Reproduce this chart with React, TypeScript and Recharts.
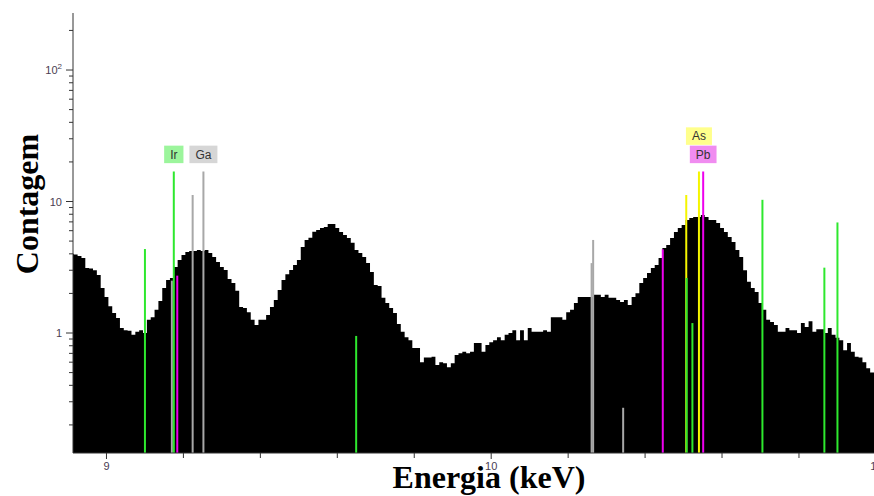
import { ComposedChart, Area, XAxis, YAxis, ReferenceLine } from "recharts";

// spectrum bins: first bin centre and bin width in keV
const START_KEV = 8.91;
const BIN_KEV = 0.01;

// counts per bin, 8.91 .. 11.00 keV
const counts = [
  4.0, 3.95, 3.85, 3.72, 3.12, 3.1, 3.0, 2.76, 2.2, 1.88,
  1.6, 1.42, 1.3, 1.09, 1.05, 1.04, 0.97, 1.02, 1.05, 1.0,
  1.26, 1.32, 1.5, 1.75, 2.2, 2.53, 2.62, 3.18, 3.59, 3.92,
  4.13, 4.2, 4.21, 4.28, 4.2, 4.28, 4.06, 3.78, 3.47, 3.18,
  3.01, 2.57, 2.4, 2.1, 1.58, 1.55, 1.44, 1.26, 1.15, 1.26,
  1.26, 1.37, 1.58, 1.78, 2.12, 2.53, 2.8, 3.01, 3.29, 3.59,
  4.5, 5.1, 5.3, 5.9, 6.07, 6.29, 6.4, 6.74, 6.74, 6.29,
  5.86, 5.56, 5.28, 4.85, 4.28, 4.06, 3.78, 3.41, 2.91, 2.32,
  2.28, 1.85, 1.69, 1.55, 1.42, 1.17, 1.02, 0.93, 0.88, 0.77,
  0.77, 0.6, 0.65, 0.65, 0.66, 0.57, 0.6, 0.59, 0.55, 0.59,
  0.68, 0.7, 0.72, 0.7, 0.72, 0.84, 0.84, 0.72, 0.81, 0.85,
  0.88, 0.93, 0.88, 0.97, 1.0, 1.05, 0.88, 1.05, 0.88, 1.09,
  1.02, 1.02, 1.02, 1.05, 1.02, 1.32, 1.32, 1.32, 1.26, 1.44,
  1.5, 1.69, 1.88, 1.88, 1.88, 1.88, 1.95, 1.95, 1.88, 1.95,
  1.85, 1.85, 1.78, 1.72, 1.78, 1.63, 1.88, 2.01, 2.4, 2.62,
  2.86, 3.12, 3.29, 3.72, 4.43, 4.67, 5.28, 5.86, 6.29, 6.63,
  7.23, 7.49, 7.62, 7.62, 7.89, 7.62, 7.23, 7.23, 6.87, 6.29,
  5.86, 5.37, 4.92, 4.28, 3.78, 3.0, 2.45, 2.2, 2.05, 1.69,
  1.5, 1.26, 1.21, 1.15, 1.02, 1.02, 1.09, 1.05, 1.05, 1.0,
  1.19, 1.11, 1.23, 1.02, 1.07, 1.07, 1.0, 1.09, 0.97, 0.92,
  0.88, 0.74, 0.84, 0.72, 0.66, 0.65, 0.6, 0.54, 0.5, 0.46,
];

// element emission lines: energy, marker height, element
const lineKeV = [
  9.1, 9.17, 9.175, 9.184, 9.224, 9.252, 9.649, 10.261, 10.265, 10.343,
  10.446, 10.507, 10.508, 10.523, 10.54, 10.551, 10.705, 10.866, 10.9,
];
const lineTop = [
  4.35, 2.5, 16.9, 2.73, 11.2, 16.9, 0.95, 3.4, 5.1, 0.27,
  4.33, 11.2, 2.62, 1.19, 16.9, 16.9, 10.3, 3.14, 6.93,
];
const lineElement = [
  "Ir", "Ga", "Ir", "Pb", "Ga", "Ga", "Ir", "Ga", "Ga", "Ga",
  "Pb", "As", "Ir", "Ir", "As", "Pb", "Ir", "Ir", "Ir",
];

const tagElements = ["Ir", "Ga", "As", "Pb"];

const xTicks = [9, 9.2, 9.4, 9.6, 9.8, 10, 10.2, 10.4, 10.6, 10.8, 11];
const yTicks = [
  0.2, 0.3, 0.4, 0.5, 0.6, 0.7, 0.8, 0.9,
  1, 2, 3, 4, 5, 6, 7, 8, 9,
  10, 20, 30, 40, 50, 60, 70, 80, 90,
  100, 200,
];

const X_DOMAIN: [number, number] = [8.913, 11.021];
const Y_DOMAIN: [number, number] = [0.1223, 271.4];

const elementStyle: Record<string, { line: string; tag: string; row: number }> = {
  Ir: { line: "#2ee82e", tag: "#9cf59c", row: 0 },
  Ga: { line: "#a8a8a8", tag: "#d6d6d6", row: 0 },
  As: { line: "#f5f500", tag: "#ffff8c", row: 1 },
  Pb: { line: "#ee00ee", tag: "#f08cf0", row: 0 },
};

const spectrum = counts.map((c, i) => ({
  energy: +(START_KEV + i * BIN_KEV).toFixed(2),
  counts: c,
}));

// strongest line of each tagged element carries the label
const tagIndex = tagElements.map((el) => {
  let best = -1;
  lineElement.forEach((e, i) => {
    if (e === el && (best < 0 || lineTop[i] > lineTop[best])) best = i;
  });
  return best;
});

const TICK_FONT = "'Liberation Sans', Arial, sans-serif";
const TITLE_FONT = "'Liberation Serif', 'Times New Roman', serif";
const TICK_COLOR = "#4a3d52";

const charW: Record<string, number> = { I: 3.3, r: 4, G: 9.3, a: 6.7, A: 8, s: 6, P: 8, b: 6.7 };
const textWidth = (t: string) => t.split("").reduce((s, c) => s + (charW[c] ?? 7), 0);

const Tag = (props: any) => {
  const { viewBox, text } = props;
  const st = elementStyle[text];
  const w = textWidth(text) + 12;
  const h = 17.5;
  const bottom = viewBox.y - 8.4 - st.row * 18.3;
  return (
    <g>
      <rect x={viewBox.x - w / 2} y={bottom - h} width={w} height={h} fill={st.tag} />
      <text
        x={viewBox.x}
        y={bottom - 4.6}
        textAnchor="middle"
        fontSize={12}
        fontFamily={TICK_FONT}
        fill="#333"
      >
        {text}
      </text>
    </g>
  );
};

const YTick = (props: any) => {
  const { x, y, payload } = props;
  const v = payload.value;
  const lg = Math.log10(v);
  const major = Math.abs(lg - Math.round(lg)) < 1e-6;
  return (
    <g>
      <line x1={x - (major ? 7 : 4)} x2={x} y1={y} y2={y} stroke="#333" />
      {major && (
        <text
          x={x - 11}
          y={y + 4}
          textAnchor="end"
          fontSize={11}
          fontFamily={TICK_FONT}
          fill={TICK_COLOR}
        >
          {v >= 100 ? (
            <>
              10
              <tspan dy={-5} fontSize={8}>
                {Math.round(lg)}
              </tspan>
            </>
          ) : (
            v
          )}
        </text>
      )}
    </g>
  );
};

const XTick = (props: any) => {
  const { x, y, payload } = props;
  const major = Number.isInteger(payload.value);
  return (
    <g>
      <line x1={x} x2={x} y1={y} y2={y + (major ? 6 : 5)} stroke="#333" />
      {major && (
        <text
          x={x}
          y={y + 17}
          textAnchor="middle"
          fontSize={11}
          fontFamily={TICK_FONT}
          fill={TICK_COLOR}
        >
          {payload.value}
        </text>
      )}
    </g>
  );
};

const XTitle = () => (
  <text
    x={489}
    y={488}
    textAnchor="middle"
    fontSize={32}
    fontWeight="bold"
    fontFamily={TITLE_FONT}
    fill="#000"
  >
    Energia (keV)
  </text>
);

const YTitle = () => (
  <text
    x={38}
    y={204}
    transform="rotate(-90, 38, 204)"
    textAnchor="middle"
    fontSize={32}
    fontWeight="bold"
    fontFamily={TITLE_FONT}
    fill="#000"
  >
    Contagem
  </text>
);

export default function App() {
  return (
    <div
      style={{
        position: "absolute",
        left: 0,
        top: 0,
        width: 874,
        height: 496,
        overflow: "hidden",
        background: "#fff",
      }}
    >
      <ComposedChart
        width={884}
        height={496}
        data={spectrum}
        margin={{ top: 13, right: 0, bottom: 0, left: 0 }}
      >
        <XAxis
          dataKey="energy"
          type="number"
          domain={X_DOMAIN}
          allowDataOverflow
          ticks={xTicks}
          interval={0}
          tickSize={0}
          tickMargin={0}
          tickLine={false}
          tick={<XTick />}
          axisLine={{ stroke: "#333" }}
          height={43}
          label={<XTitle />}
        />
        <YAxis
          type="number"
          scale="log"
          domain={Y_DOMAIN}
          allowDataOverflow
          ticks={yTicks}
          interval={0}
          tickSize={0}
          tickMargin={0}
          tickLine={false}
          tick={<YTick />}
          axisLine={{ stroke: "#333" }}
          width={73}
          label={<YTitle />}
        />
        <Area
          dataKey="counts"
          type="step"
          fill="#000"
          fillOpacity={1}
          stroke="none"
          baseValue={Y_DOMAIN[0]}
          dot={false}
          activeDot={false}
          isAnimationActive={false}
        />
        {lineKeV.map((e, i) => (
          <ReferenceLine
            key={i}
            segment={[
              { x: e, y: Y_DOMAIN[0] },
              { x: e, y: lineTop[i] },
            ]}
            stroke={elementStyle[lineElement[i]].line}
            strokeWidth={2}
            ifOverflow="visible"
            label={
              tagIndex.includes(i) ? <Tag text={lineElement[i]} /> : undefined
            }
          />
        ))}
      </ComposedChart>
    </div>
  );
}
